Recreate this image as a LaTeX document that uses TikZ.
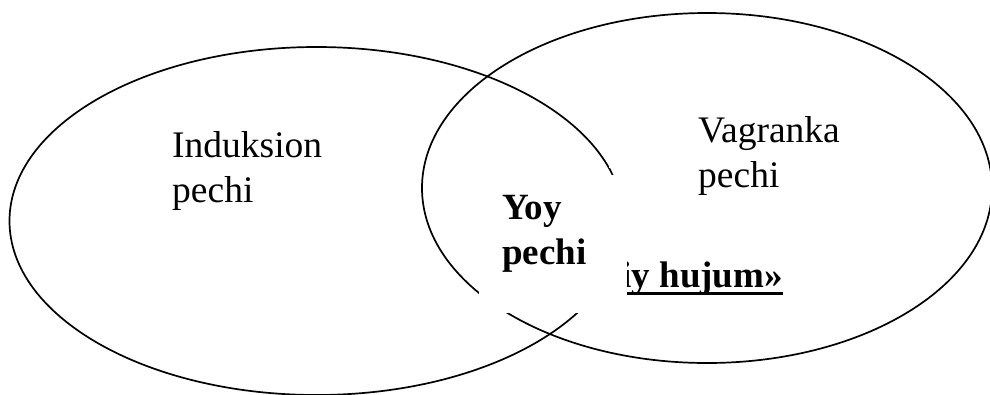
\documentclass[tikz,border=0pt]{standalone}
\usepackage{fontspec}
\setmainfont{Liberation Serif}
\begin{document}
\begin{tikzpicture}[x=1pt,y=-1pt,
  ring/.style={draw=black,line width=1.7pt},
  lbl/.style={anchor=base west,inner sep=0pt,font=\fontsize{37.5}{45}\selectfont},
  blbl/.style={lbl,font=\fontsize{37}{45}\selectfont\bfseries},
  mask/.style={fill=white,draw=none}]
\useasboundingbox (0,0) rectangle (990,394);
\fill[white] (0,0) rectangle (990,394);
% circles
\draw[ring] (316.5,221) ellipse [x radius=307,y radius=174];
\draw[ring] (707,188) ellipse [x radius=285,y radius=175];
% partially hidden underlined text
\node[blbl,anchor=base east] (hujum) at (783,287) {iy hujum»};
\draw[line width=3pt] ([yshift=-6pt]hujum.base west) -- ([yshift=-6pt]hujum.base east);
% small gaps
\fill[mask] (982,131) rectangle (987,138);
\fill[mask] (608.5,164) rectangle (612.5,167.5);
% white text box for the intersection
\node[mask,anchor=north west,minimum width=148pt,minimum height=138pt,inner sep=0pt] (box) at (479,175) {};
% labels
\node[lbl] (ind1) at (172,157) {Induksion};
\node[lbl] (ind2) at (172,202) {pechi};
\node[lbl] (vag1) at (698,142) {Vagranka};
\node[lbl] (vag2) at (698,187) {pechi};
\node[blbl] (yoy1) at (502,219) {Yoy};
\node[blbl] (yoy2) at (502,264) {pechi};
\end{tikzpicture}
\end{document}
